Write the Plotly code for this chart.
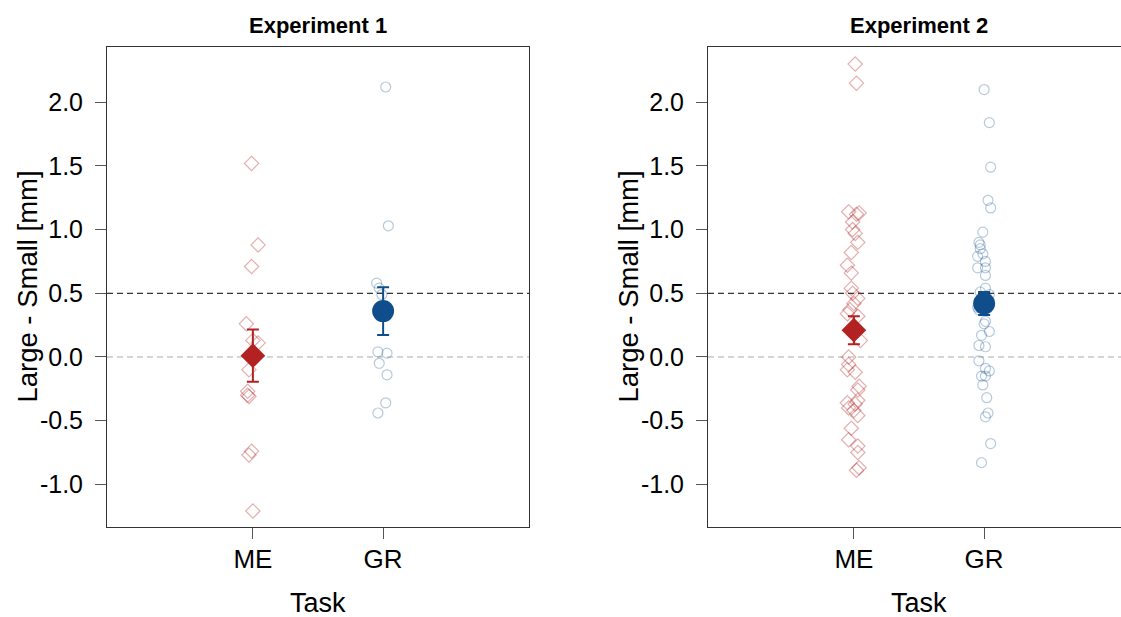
import plotly.graph_objects as go

# ---------------- data ----------------
tasks = ["ME", "GR"]
task_pos = [1, 2]
panel_titles = ["Experiment 1", "Experiment 2"]
y_ticks = [-1.0, -0.5, 0.0, 0.5, 1.0, 1.5, 2.0]
y_tick_text = ["-1.0", "-0.5", "0.0", "0.5", "1.0", "1.5", "2.0"]

exp1_me = [1.52, 0.88, 0.71, 0.26, 0.13, 0.11, -0.10, -0.27, -0.30, -0.31, -0.74, -0.77, -1.21]
exp1_me_jit = [-0.01, 0.04, -0.01, -0.05, 0.0, 0.04, -0.03, -0.04, -0.04, -0.03, -0.01, -0.03, 0.0]
exp1_gr = [2.12, 1.03, 0.58, 0.54, 0.49, 0.04, 0.03, -0.05, -0.14, -0.36, -0.44]
exp1_gr_jit = [0.02, 0.04, -0.05, -0.03, -0.01, -0.04, 0.03, -0.03, 0.03, 0.02, -0.04]

exp2_me = [2.30, 2.15, 1.14, 1.13, 1.12, 1.06, 1.00, 0.97, 0.90, 0.82, 0.72, 0.66, 0.54,
           0.50, 0.46, 0.42, 0.37, 0.34, 0.32, 0.13, 0.00, -0.06, -0.10, -0.12, -0.23,
           -0.26, -0.34, -0.36, -0.37, -0.40, -0.42, -0.46, -0.56, -0.65, -0.70, -0.75,
           -0.87, -0.89]
exp2_me_jit = [0.01, 0.02, -0.04, 0.04, 0.02, -0.01, -0.01, 0.01, 0.03, -0.02, -0.05, -0.02,
               -0.02, -0.01, 0.03, 0.0, -0.03, -0.05, 0.03, 0.05, -0.04, -0.04, -0.05, 0.01,
               0.04, 0.03, 0.03, -0.05, 0.01, -0.04, 0.0, 0.03, -0.02, -0.04, 0.03, 0.03,
               0.04, 0.02]
exp2_gr = [2.10, 1.84, 1.49, 1.23, 1.17, 0.98, 0.90, 0.88, 0.85, 0.81, 0.79, 0.75, 0.70,
           0.70, 0.64, 0.54, 0.51, 0.49, 0.45, 0.39, 0.37, 0.28, 0.26, 0.20, 0.17, 0.09,
           0.08, -0.03, -0.09, -0.11, -0.15, -0.15, -0.22, -0.32, -0.44, -0.47, -0.68, -0.83]
exp2_gr_jit = [0.0, 0.04, 0.05, 0.03, 0.05, -0.01, -0.04, -0.03, -0.03, -0.01, -0.05, 0.01,
               -0.05, 0.01, 0.01, 0.01, -0.03, 0.04, -0.01, -0.05, -0.04, 0.01, 0.0, 0.04,
               -0.02, -0.04, 0.01, -0.04, 0.01, 0.04, -0.02, 0.01, -0.01, 0.02, 0.03, 0.01,
               0.05, -0.02]

means = {"exp1": [0.01, 0.36], "exp2": [0.21, 0.42]}
errs = {"exp1": [0.205, 0.187], "exp2": [0.11, 0.09]}

# ---------------- styling ----------------
W, H = 1121, 617
RED = "#B22222"
BLUE = "#104E8B"
RED_L = "rgba(178,34,34,0.36)"
BLUE_L = "rgba(16,78,139,0.30)"
FONT = "Liberation Sans, Arial, Helvetica, sans-serif"
AX = "#333333"

# pixel layout of panels
p1 = (107, 529)
p2 = (708, 1130)
top_px, bot_px = 46.5, 526.7
unit = (p1[1] - p1[0]) / 3.24

fig = go.Figure()

def add_panel(xa, ya, me, me_j, gr, gr_j, key):
    fig.add_trace(go.Scatter(
        x=[task_pos[0] + j for j in me_j], y=me, mode="markers", xaxis=xa, yaxis=ya,
        marker=dict(symbol="diamond-open", size=11, color=RED_L, line=dict(width=1.2, color=RED_L)),
        showlegend=False, hoverinfo="y"))
    fig.add_trace(go.Scatter(
        x=[task_pos[1] + j for j in gr_j], y=gr, mode="markers", xaxis=xa, yaxis=ya,
        marker=dict(symbol="circle-open", size=10, color=BLUE_L, line=dict(width=1.2, color=BLUE_L)),
        showlegend=False, hoverinfo="y"))
    fig.add_trace(go.Scatter(
        x=[task_pos[0]], y=[means[key][0]], mode="markers", xaxis=xa, yaxis=ya,
        error_y=dict(type="data", array=[errs[key][0]], color=RED, thickness=2, width=6),
        marker=dict(symbol="diamond", size=19, color=RED), showlegend=False))
    fig.add_trace(go.Scatter(
        x=[task_pos[1]], y=[means[key][1]], mode="markers", xaxis=xa, yaxis=ya,
        error_y=dict(type="data", array=[errs[key][1]], color=BLUE, thickness=2, width=6),
        marker=dict(symbol="circle", size=22, color=BLUE), showlegend=False))

add_panel("x", "y", exp1_me, exp1_me_jit, exp1_gr, exp1_gr_jit, "exp1")
add_panel("x2", "y2", exp2_me, exp2_me_jit, exp2_gr, exp2_gr_jit, "exp2")

ydom = [1 - bot_px / H, 1 - top_px / H]
yrange = [-1.333, 2.438]

common_y = dict(range=yrange, tickvals=y_ticks, ticktext=y_tick_text, ticks="outside",
                ticklen=11, tickwidth=1, tickcolor="#555", showline=True, linecolor=AX,
                linewidth=1, showgrid=False, zeroline=False,
                tickfont=dict(family=FONT, size=25, color="black"), ticklabelstandoff=7)
common_x = dict(tickvals=task_pos, ticktext=tasks, ticks="outside", ticklen=11, tickwidth=1,
                tickcolor="#555", showline=True, linecolor=AX, linewidth=1, mirror=True,
                showgrid=False, zeroline=False,
                tickfont=dict(family=FONT, size=26, color="black"), ticklabelstandoff=-2)

fig.update_layout(
    width=W, height=H, margin=dict(l=0, r=0, t=0, b=0),
    paper_bgcolor="white", plot_bgcolor="white",
    xaxis=dict(domain=[p1[0] / W, p1[1] / W], range=[-0.12, 3.12], anchor="y", **common_x),
    yaxis=dict(domain=ydom, anchor="x", mirror=True, **common_y),
    xaxis2=dict(domain=[p2[0] / W, 1.0], range=[-0.12, -0.12 + (W - p2[0]) / unit], anchor="y2", **common_x),
    yaxis2=dict(domain=ydom, anchor="x2", mirror=False, **common_y),
)

# reference lines
for xr, yr in [("x", "y"), ("x2", "y2")]:
    fig.add_shape(type="line", xref=f"{xr} domain", yref=yr, x0=0, x1=1, y0=0.0, y1=0.0,
                  line=dict(color="#C8C8C8", width=1.5, dash="6px,4px"), layer="below")
    fig.add_shape(type="line", xref=f"{xr} domain", yref=yr, x0=0, x1=1, y0=0.5, y1=0.5,
                  line=dict(color="black", width=1, dash="6px,4px"), layer="below")

# titles and axis labels
for (x0, x1), title in zip([p1, p2], panel_titles):
    cx = (x0 + x1) / 2
    fig.add_annotation(x=cx / W, y=1 - 25 / H, xref="paper", yref="paper", text=f"<b>{title}</b>",
                       showarrow=False, font=dict(family=FONT, size=22, color="black"),
                       xanchor="center", yanchor="middle")
    fig.add_annotation(x=cx / W, y=1 - 603 / H, xref="paper", yref="paper", text="Task",
                       showarrow=False, font=dict(family=FONT, size=27, color="black"),
                       xanchor="center", yanchor="middle")
    fig.add_annotation(x=(x0 - 79) / W, y=1 - ((top_px + bot_px) / 2) / H, xref="paper", yref="paper",
                       text="Large - Small [mm]", textangle=-90, showarrow=False,
                       font=dict(family=FONT, size=27.5, color="black"),
                       xanchor="center", yanchor="middle")

fig.write_html(
    "out.html", config={"displayModeBar": False},
    post_script=("document.documentElement.style.overflow='hidden';"
                 "document.documentElement.style.margin='0';"
                 "document.body.style.margin='0';document.body.style.overflow='hidden';"))
